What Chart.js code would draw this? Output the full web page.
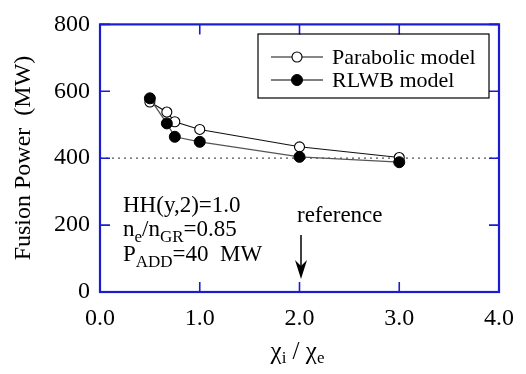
<!DOCTYPE html>
<html lang="en">

<head>
    <meta charset="UTF-8">
    <title>Fusion Power vs chi ratio</title>
    <script src="https://cdn.jsdelivr.net/npm/chart.js"></script>
    <style>
        html, body { margin: 0; padding: 0; background: #fff; }
        #wrap { width: 526px; height: 374px; }
    </style>
</head>

<body>
    <div id="wrap"><canvas id="fusionChart" width="526" height="374"></canvas></div>

<script>
    // values
    const chiRatio = [0.5, 0.67, 0.75, 1.0, 2.0, 3.0];
    const parabolicPower = [568, 538, 509, 486, 434, 402];
    const rlwbPower = [579, 504, 464, 449, 404, 388];
    const seriesNames = ['Parabolic model', 'RLWB model'];
    const xTickValues = [0, 1, 2, 3, 4];
    const yTickValues = [0, 200, 400, 600, 800];
    const referenceLevel = 400;
    const referenceChi = 2.0;

    const SERIF = 'Liberation Serif, serif';
    const AXIS_BLUE = '#1c1ccf';
    Chart.defaults.font.family = SERIF;

    const toPoints = (xs, ys) => xs.map((x, i) => ({ x: x, y: ys[i] }));

    // write text with subscripts: parts = [[text, isSub], ...]
    const drawParts = (ctx, parts, x, y, size, subSize, drop) => {
        let cx = x;
        parts.forEach(([txt, sub]) => {
            ctx.font = (sub ? subSize : size) + 'px ' + SERIF;
            ctx.fillText(txt, cx, sub ? y + drop : y);
            cx += ctx.measureText(txt).width;
        });
        return cx - x;
    };
    const partsWidth = (ctx, parts, size, subSize) => {
        let w = 0;
        parts.forEach(([txt, sub]) => {
            ctx.font = (sub ? subSize : size) + 'px ' + SERIF;
            w += ctx.measureText(txt).width;
        });
        return w;
    };

    const decorPlugin = {
        id: 'decor',
        beforeDatasetsDraw(chart) {
            const { ctx, chartArea, scales } = chart;
            const y = scales.y.getPixelForValue(referenceLevel);
            ctx.save();
            ctx.strokeStyle = '#555';
            ctx.lineWidth = 1.2;
            ctx.setLineDash([2, 4]);
            ctx.beginPath();
            ctx.moveTo(chartArea.left, y);
            ctx.lineTo(chartArea.right, y);
            ctx.stroke();
            ctx.restore();
        },
        afterDraw(chart) {
            const { ctx, chartArea: a, scales } = chart;
            ctx.save();

            // frame and inward ticks
            ctx.strokeStyle = AXIS_BLUE;
            ctx.lineWidth = 1.6;
            const tl = 10;
            ctx.beginPath();
            yTickValues.forEach(v => {
                const py = scales.y.getPixelForValue(v);
                ctx.moveTo(a.left, py); ctx.lineTo(a.left + tl, py);
                ctx.moveTo(a.right, py); ctx.lineTo(a.right - tl, py);
            });
            xTickValues.forEach(v => {
                const px = scales.x.getPixelForValue(v);
                ctx.moveTo(px, a.bottom); ctx.lineTo(px, a.bottom - tl);
                ctx.moveTo(px, a.top); ctx.lineTo(px, a.top + tl);
            });
            ctx.stroke();
            ctx.lineWidth = 2.2;
            ctx.strokeRect(a.left, a.top, a.right - a.left, a.bottom - a.top);

            // legend box
            ctx.strokeStyle = '#000';
            ctx.lineWidth = 1.2;
            ctx.strokeRect(258, 34, 231, 64);
            chart.data.datasets.forEach((ds, i) => {
                const ly = 57 + i * 23;
                ctx.strokeStyle = ds.borderColor;
                ctx.lineWidth = ds.borderWidth;
                ctx.beginPath();
                ctx.moveTo(271, ly); ctx.lineTo(323, ly);
                ctx.stroke();
                ctx.beginPath();
                ctx.arc(297, ly, ds.pointRadius, 0, Math.PI * 2);
                ctx.fillStyle = ds.pointBackgroundColor;
                ctx.fill();
                ctx.strokeStyle = ds.pointBorderColor;
                ctx.lineWidth = ds.pointBorderWidth;
                ctx.stroke();
                ctx.fillStyle = '#000';
                ctx.font = '22px ' + SERIF;
                ctx.textBaseline = 'middle';
                ctx.fillText(seriesNames[i], 332, ly + 1);
            });

            // parameters block
            ctx.fillStyle = '#000';
            ctx.textBaseline = 'alphabetic';
            ctx.textAlign = 'left';
            drawParts(ctx, [['HH(y,2)=1.0', false]], 123, 212, 23, 17, 6);
            drawParts(ctx, [['n', false], ['e', true], ['/n', false], ['GR', true], ['=0.85', false]], 123, 236, 23, 17, 6);
            drawParts(ctx, [['P', false], ['ADD', true], ['=40  MW', false]], 123, 261, 23, 17, 6);

            // reference arrow
            const ax = scales.x.getPixelForValue(referenceChi) + 1.5;
            ctx.font = '23px ' + SERIF;
            ctx.fillText('reference', 297, 222);
            ctx.strokeStyle = '#000';
            ctx.lineWidth = 1.5;
            ctx.beginPath();
            ctx.moveTo(ax, 235); ctx.lineTo(ax, 272);
            ctx.stroke();
            ctx.beginPath();
            ctx.moveTo(ax, 279);
            ctx.lineTo(ax - 6, 260);
            ctx.lineTo(ax, 266);
            ctx.lineTo(ax + 6, 260);
            ctx.closePath();
            ctx.fill();

            // axis titles
            const xt = [['\u03c7', false], ['i', true], [' / ', false], ['\u03c7', false], ['e', true]];
            const w = partsWidth(ctx, xt, 25, 17);
            drawParts(ctx, xt, (a.left + a.right) / 2 - w / 2 - 2, 359, 25, 17, 4);

            ctx.translate(30, 158);
            ctx.rotate(-Math.PI / 2);
            ctx.textAlign = 'center';
            ctx.font = '24px ' + SERIF;
            ctx.fillText('Fusion Power  (MW)', 0, 0);
            ctx.restore();
        }
    };

    const ctx = document.getElementById('fusionChart').getContext('2d');
    new Chart(ctx, {
        type: 'scatter',
        data: {
            datasets: [{
                label: seriesNames[0],
                data: toPoints(chiRatio, parabolicPower),
                showLine: true,
                borderColor: '#111',
                borderWidth: 1.1,
                pointRadius: 5,
                pointBackgroundColor: '#fff',
                pointBorderColor: '#000',
                pointBorderWidth: 1.1,
                order: 1
            }, {
                label: seriesNames[1],
                data: toPoints(chiRatio, rlwbPower),
                showLine: true,
                borderColor: '#555',
                borderWidth: 1.3,
                pointRadius: 5.5,
                pointBackgroundColor: '#000',
                pointBorderColor: '#000',
                pointBorderWidth: 1,
                order: 0
            }]
        },
        options: {
            responsive: false,
            animation: false,
            layout: { padding: { top: 20, right: 19, bottom: 0, left: 0 } },
            plugins: {
                legend: { display: false },
                tooltip: { enabled: false }
            },
            scales: {
                x: {
                    type: 'linear',
                    min: 0,
                    max: 4,
                    afterFit: s => { s.height = 82; },
                    afterBuildTicks: s => { s.ticks = xTickValues.map(v => ({ value: v })); },
                    grid: { display: false, drawTicks: false },
                    border: { display: false },
                    ticks: {
                        color: '#000',
                        padding: 12,
                        font: { family: SERIF, size: 24 },
                        callback: v => v.toFixed(1)
                    }
                },
                y: {
                    type: 'linear',
                    min: 0,
                    max: 800,
                    afterFit: s => { s.width = 100; },
                    afterBuildTicks: s => { s.ticks = yTickValues.map(v => ({ value: v })); },
                    grid: { display: false, drawTicks: false },
                    border: { display: false },
                    ticks: {
                        color: '#000',
                        padding: 10,
                        font: { family: SERIF, size: 24 }
                    }
                }
            }
        },
        plugins: [decorPlugin]
    });
</script>
</body>

</html>
